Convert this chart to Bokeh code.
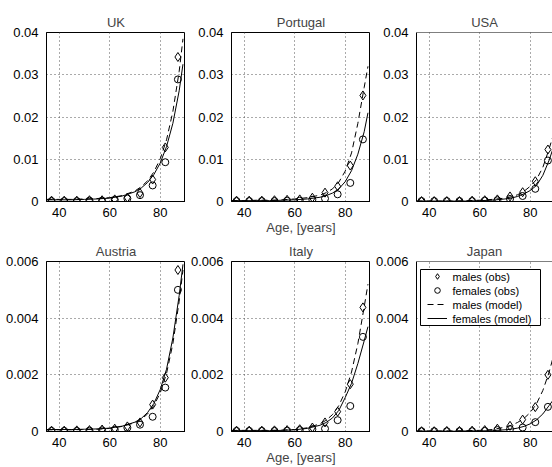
from bokeh.plotting import figure
from bokeh.layouts import gridplot
from bokeh.models import FixedTicker, Legend, LegendItem, Range1d, Span, BoxAnnotation, Label
from bokeh.core.properties import value
from bokeh.embed import file_html
from bokeh.resources import INLINE

FONT = "Liberation Sans"

countries = ["UK", "Portugal", "USA", "Austria", "Italy", "Japan"]
obs_ages = [37, 42, 47, 52, 57, 62, 67, 72, 77, 82, 87]
model_ages = [35, 40, 45, 50, 55, 60, 65, 70, 72.5, 75, 77.5, 80, 82.5, 85, 87.5, 89]

x_ticks = [40, 60, 80]
x_tick_labels = ["40", "60", "80"]
top_y_ticks = [0, 0.01, 0.02, 0.03, 0.04]
top_y_labels = ["0", "0.01", "0.02", "0.03", "0.04"]
bot_y_ticks = [0, 0.002, 0.004, 0.006]
bot_y_labels = ["0", "0.002", "0.004", "0.006"]

# observed rates (ages 37..87)
uk_males_obs = [0.0002, 0.0002, 0.0002, 0.0003, 0.0003, 0.0005, 0.0009, 0.0020, 0.0052, 0.0128, 0.0342]
uk_females_obs = [0.0001, 0.0001, 0.0001, 0.0002, 0.0002, 0.0004, 0.0007, 0.0015, 0.0038, 0.0093, 0.0289]
pt_males_obs = [0.0002, 0.0002, 0.0002, 0.0003, 0.0004, 0.0005, 0.0009, 0.0021, 0.0036, 0.0085, 0.0251]
pt_females_obs = [0.0001, 0.0001, 0.0001, 0.0001, 0.0002, 0.0002, 0.0004, 0.0007, 0.0017, 0.0044, 0.0147]
usa_males_obs = [0.0001, 0.0001, 0.0001, 0.0001, 0.0002, 0.0003, 0.0005, 0.0012, 0.0022, 0.0048, 0.0123]
usa_females_obs = [0.0001, 0.0001, 0.0001, 0.0001, 0.0001, 0.0002, 0.0003, 0.0006, 0.0013, 0.0030, 0.0097]
at_males_obs = [0.00003, 0.00003, 0.00004, 0.00005, 0.00007, 0.0001, 0.00018, 0.00032, 0.00095, 0.0019, 0.0057]
at_females_obs = [0.00002, 0.00002, 0.00002, 0.00003, 0.00004, 0.00006, 0.00013, 0.00024, 0.00052, 0.00155, 0.0050]
it_males_obs = [0.00003, 0.00003, 0.00003, 0.00004, 0.00005, 0.00008, 0.00014, 0.00032, 0.0007, 0.00167, 0.00438]
it_females_obs = [0.00002, 0.00002, 0.00002, 0.00002, 0.00003, 0.00005, 0.00008, 0.0001, 0.0004, 0.0009, 0.00334]
jp_males_obs = [0.00001, 0.00001, 0.00002, 0.00002, 0.00003, 0.00005, 0.0001, 0.0002, 0.00042, 0.00086, 0.0020]
jp_females_obs = [0.00001, 0.00001, 0.00001, 0.00001, 0.00001, 0.00002, 0.00005, 0.00008, 0.00014, 0.00033, 0.00087]

# model curves (read at model_ages)
uk_males_model = [0.0005, 0.0005, 0.0005, 0.0006, 0.0007, 0.0009, 0.0014, 0.0025, 0.0035, 0.0049, 0.0070, 0.0101, 0.0146, 0.0213, 0.0308, 0.0385]
uk_females_model = [0.0004, 0.0004, 0.0004, 0.0005, 0.0006, 0.0008, 0.0013, 0.0023, 0.0032, 0.0045, 0.0064, 0.0091, 0.0130, 0.0185, 0.0262, 0.0325]
pt_males_model = [0.0002, 0.0002, 0.0003, 0.0003, 0.0004, 0.0006, 0.0009, 0.0015, 0.0021, 0.0030, 0.0046, 0.0072, 0.0115, 0.0185, 0.0270, 0.0320]
pt_females_model = [0.0002, 0.0002, 0.0002, 0.0002, 0.0003, 0.0004, 0.0006, 0.0010, 0.0014, 0.0020, 0.0030, 0.0047, 0.0073, 0.0112, 0.0165, 0.0210]
usa_males_model = [0.0001, 0.0001, 0.0001, 0.0001, 0.0002, 0.0003, 0.0005, 0.0008, 0.0011, 0.0016, 0.0024, 0.0036, 0.0052, 0.0081, 0.0125, 0.0155]
usa_females_model = [0.0001, 0.0001, 0.0001, 0.0001, 0.0001, 0.0002, 0.0003, 0.0006, 0.0008, 0.0012, 0.0018, 0.0026, 0.0038, 0.0062, 0.0098, 0.0125]
at_males_model = [0.00006, 0.00006, 0.00006, 0.00007, 0.00008, 0.00011, 0.00018, 0.00031, 0.00043, 0.00062, 0.00092, 0.00136, 0.00205, 0.0031, 0.0046, 0.0057]
at_females_model = [0.00007, 0.00007, 0.00007, 0.00008, 0.00009, 0.00012, 0.00019, 0.00033, 0.00046, 0.00067, 0.00099, 0.00148, 0.0022, 0.0033, 0.0048, 0.0059]
it_males_model = [0.00004, 0.00004, 0.00004, 0.00004, 0.00005, 0.00007, 0.00013, 0.00027, 0.0004, 0.0006, 0.00092, 0.0014, 0.0021, 0.0031, 0.0044, 0.0052]
it_females_model = [0.00003, 0.00003, 0.00003, 0.00003, 0.00004, 0.00006, 0.00011, 0.00022, 0.00032, 0.00048, 0.00075, 0.0012, 0.0017, 0.0024, 0.0032, 0.0037]
jp_males_model = [0.00002, 0.00002, 0.00002, 0.00002, 0.00003, 0.00004, 0.00007, 0.00015, 0.00022, 0.00032, 0.00046, 0.00067, 0.00098, 0.00145, 0.0021, 0.0026]
jp_females_model = [0.00001, 0.00001, 0.00001, 0.00001, 0.00002, 0.00002, 0.00003, 0.00006, 0.00008, 0.00012, 0.00018, 0.00027, 0.00041, 0.00062, 0.00092, 0.0011]

obs_m = [uk_males_obs, pt_males_obs, usa_males_obs, at_males_obs, it_males_obs, jp_males_obs]
obs_f = [uk_females_obs, pt_females_obs, usa_females_obs, at_females_obs, it_females_obs, jp_females_obs]
mod_m = [uk_males_model, pt_males_model, usa_males_model, at_males_model, it_males_model, jp_males_model]
mod_f = [uk_females_model, pt_females_model, usa_females_model, at_females_model, it_females_model, jp_females_model]

legend_labels = ["males (obs)", "females (obs)", "males (model)", "females (model)"]
x_label = "Age, [years]"

FW = 139
FW3 = 136
FHS = [169, 170]
BTS = [32, 24]
BB = 36
BL = 46
X0, X1 = 35, 90
X1_3 = X0 + (X1 - X0) * FW3 / FW

# legend box geometry (screen px, relative to the Japan frame bottom-left)
LEG_LEFT, LEG_RIGHT = 4, 124
LEG_TOP_OFF = 8
ROW_H = 14
GLYPH_X, GLYPH_W = 11, 20
TEXT_X = 36

figs = []
for i, name in enumerate(countries):
    row, col = divmod(i, 3)
    top = row == 0
    yt = top_y_ticks if top else bot_y_ticks
    yl = top_y_labels if top else bot_y_labels
    last = col == 2
    fw = FW3 if last else FW
    fh = FHS[row]
    p = figure(
        width=BL + fw, height=BTS[row] + fh + BB,
        x_range=Range1d(X0, X1_3 if last else X1),
        y_range=Range1d(yt[0], yt[-1]),
        output_backend="svg", toolbar_location=None,
        min_border_left=BL, min_border_right=0,
        min_border_top=BTS[row], min_border_bottom=BB,
        background_fill_color="white", border_fill_color="white",
    )
    p.title.text = name
    p.title.align = "center"
    p.title.text_font = FONT
    p.title.text_font_size = "13px"
    p.title.text_font_style = "normal"
    p.title.standoff = 5

    if last:
        p.outline_line_color = None
        p.add_layout(Span(location=yt[-1], dimension="width", line_color="black", line_width=1))
    else:
        p.outline_line_color = "black"
        p.outline_line_width = 1
        p.outline_line_alpha = 1

    for ax in (p.xaxis[0], p.yaxis[0]):
        ax.axis_line_color = "black"
        ax.major_tick_line_color = None
        ax.minor_tick_line_color = None
        ax.major_label_text_font = FONT
        ax.major_label_text_font_size = "13px"
        ax.major_label_text_color = "black"
        ax.major_label_standoff = 2
    p.xaxis.major_label_standoff = 0
    p.xaxis.ticker = FixedTicker(ticks=x_ticks)
    p.xaxis.major_label_overrides = {t: s for t, s in zip(x_ticks, x_tick_labels)}
    p.yaxis.ticker = FixedTicker(ticks=yt)
    p.yaxis.major_label_overrides = {t: s for t, s in zip(yt, yl)}
    if col == 1:
        p.xaxis.axis_label = x_label
        p.xaxis.axis_label_text_font = FONT
        p.xaxis.axis_label_text_font_size = "13px"
        p.xaxis.axis_label_text_font_style = "normal"
        p.xaxis.axis_label_standoff = 0

    for g in (p.xgrid[0], p.ygrid[0]):
        g.grid_line_color = "#555555"
        g.grid_line_dash = "1 3"
        g.grid_line_width = 1

    rd = p.scatter(obs_ages, obs_m[i], marker="diamond", size=9, fill_color=None,
                   line_color="black", line_width=1)
    rc = p.scatter(obs_ages, obs_f[i], marker="circle", size=7, fill_color=None,
                   line_color="black", line_width=1)
    lm = p.line(model_ages, mod_m[i], line_color="black", line_width=1, line_dash="6 4")
    lf = p.line(model_ages, mod_f[i], line_color="black", line_width=1)

    if name == "Japan":
        n = len(legend_labels)
        box_top = fh - LEG_TOP_OFF
        box_bottom = box_top - n * ROW_H
        p.add_layout(BoxAnnotation(left=LEG_LEFT, right=LEG_RIGHT, top=box_top, bottom=box_bottom,
                                   left_units="screen", right_units="screen",
                                   top_units="screen", bottom_units="screen",
                                   fill_color="white", fill_alpha=1.0,
                                   line_color="black", line_width=1, line_alpha=1.0))
        for k, (lab, r) in enumerate(zip(legend_labels, [rd, rc, lm, lf])):
            row_bottom = box_top - (k + 1) * ROW_H
            leg = Legend(items=[LegendItem(label=value(""), renderers=[r])],
                         location=(GLYPH_X, row_bottom))
            leg.margin = 0
            leg.padding = 0
            leg.spacing = 0
            leg.label_height = ROW_H
            leg.label_width = 0
            leg.glyph_height = ROW_H
            leg.glyph_width = GLYPH_W
            leg.label_standoff = 0
            leg.border_line_color = None
            leg.background_fill_alpha = 0
            p.add_layout(leg)
            p.add_layout(Label(x=TEXT_X, y=row_bottom + ROW_H / 2, x_units="screen", y_units="screen",
                               text=lab, text_align="left", text_baseline="middle",
                               text_font=FONT, text_font_size="11px", text_color="black"))
    figs.append(p)

grid = gridplot([figs[0:3], figs[3:6]], toolbar_location=None)
open("out.html", "w").write(file_html(grid, INLINE))
